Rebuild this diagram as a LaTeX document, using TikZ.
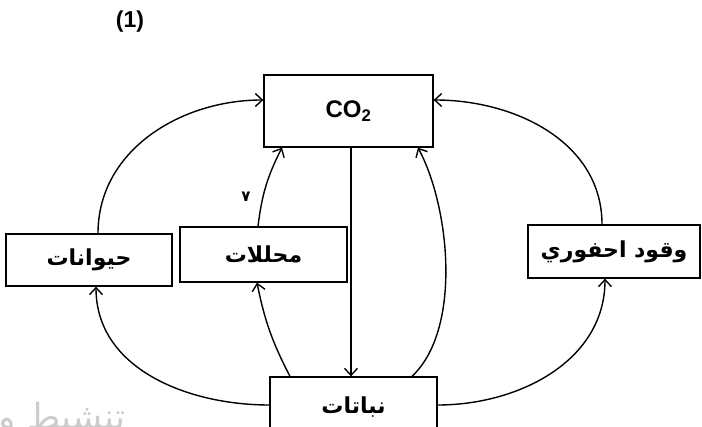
\documentclass[tikz,border=0pt]{standalone}
\usepackage{fontspec}
\setmainfont{Liberation Sans}
\newfontfamily\arabicfont[Script=Arabic]{DejaVu Sans}
\TeXXeTstate=1
\usetikzlibrary{arrows.meta}
\tikzset{
  box/.style={draw, line width=1.3pt, inner sep=0pt, font=\arabicfont\bfseries\fontsize{22}{24}\selectfont},
  conn/.style={line width=1.4pt, -{Straight Barb[length=7pt,width=13pt]}},
}
\begin{document}
\begin{tikzpicture}[x=1pt,y=-1pt]
\useasboundingbox (0,0) rectangle (702,427);
% watermark
\node[anchor=base east, text=black!20, font=\arabicfont\fontsize{36}{40}\selectfont, inner sep=0pt] (wm) at (126,430) {\beginR تنشيط ويندوز\endR};
\node[font=\bfseries\fontsize{23}{25}\selectfont] (num) at (130,22) {(1)};
\node[box, minimum width=169pt, minimum height=72pt, font=\bfseries\fontsize{24}{26}\selectfont] (co2) at (348.5,111) {CO\textsubscript{2}};
\node[box, minimum width=166pt, minimum height=52pt] (animals) at (89,260) {\beginR حيوانات\endR};
\node[box, minimum width=167pt, minimum height=55pt] (decomp) at (263.5,254.5) {\beginR محللات\endR};
\node[box, minimum width=172pt, minimum height=53pt] (fossil) at (614,251.5) {\beginR وقود احفوري\endR};
\node[box, minimum width=167pt, minimum height=63pt] (plants) at (353.5,408.5) {\raisebox{7pt}{\beginR نباتات\endR}};
\node[font=\arabicfont\bfseries\fontsize{15}{17}\selectfont] (seven) at (246,197) {٧};
% connectors
\draw[conn] ([xshift=9pt]animals.north) to[out=90,in=180] ([yshift=11pt]co2.west);
\draw[conn] ([xshift=-12pt]fossil.north) to[out=90,in=0] ([yshift=11pt]co2.east);
\draw[conn] ([xshift=-5.5pt]decomp.north) to[bend left=10] ([xshift=-66.5pt]co2.south);
\draw[conn] ([xshift=2.5pt]co2.south) -- ([xshift=2.5pt]co2.south |- plants.north);
\draw[conn] ([xshift=-63.5pt]plants.north) to[bend left=8] ([xshift=-6.5pt]decomp.south);
\draw[conn] ([xshift=58.5pt]plants.north) .. controls +(50,-47) and +(32,60) .. ([xshift=69.5pt]co2.south);
\draw[conn] ([yshift=3.5pt]plants.west) to[out=180,in=-90] ([xshift=7pt]animals.south);
\draw[conn] ([yshift=3.5pt]plants.east) to[out=0,in=-90] ([xshift=-9pt]fossil.south);
\end{tikzpicture}
\end{document}
